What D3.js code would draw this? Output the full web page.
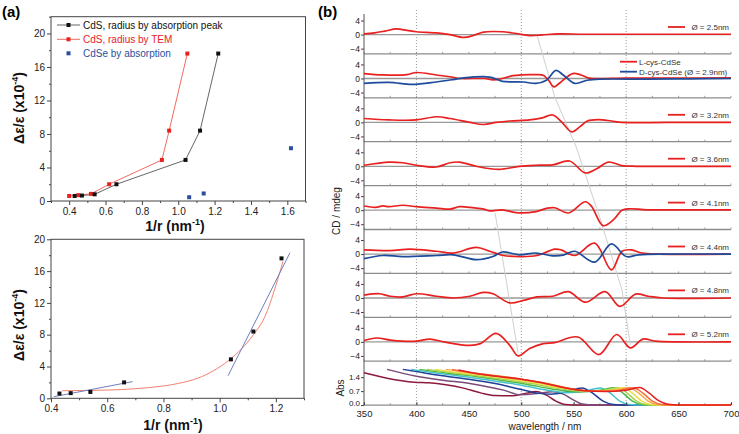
<!DOCTYPE html>
<html><head><meta charset="utf-8">
<script src="https://cdn.jsdelivr.net/npm/d3@7"></script>
<style>body{margin:0;background:#fff}svg{display:block}</style>
</head><body>
<svg id="chart" width="739" height="434"></svg>
<script>
// ---------- DATA : panel (a) ----------
const cdsAbsX = [0.43, 0.47, 0.54, 0.66, 1.04, 1.12, 1.22];
const cdsAbsY = [0.6, 0.65, 0.8, 2.0, 4.9, 8.4, 17.6];
const cdsTemX = [0.40, 0.45, 0.52, 0.62, 0.91, 0.95, 1.05];
const cdsTemY = [0.6, 0.7, 0.85, 2.0, 4.9, 8.4, 17.6];
const cdseX = [1.06, 1.14, 1.62];
const cdseY = [0.45, 0.9, 6.3];
const legendA = ["CdS, radius by absorption peak", "CdS, radius by TEM", "CdSe by absorption"];
const yTicksA = [0, 4, 8, 12, 16, 20];
const xTicksA = [0.4, 0.6, 0.8, 1.0, 1.2, 1.4, 1.6];
const xTicksC = [0.4, 0.6, 0.8, 1.0, 1.2];
const fitLow = [[0.41, 0.2], [0.69, 2.1]];
const fitHigh = [[1.03, 2.85], [1.25, 18.3]];
const fitExp = [[0.44,0.95],[0.55,1.0],[0.65,1.1],[0.75,1.35],[0.85,1.85],[0.92,2.5],[0.98,3.5],[1.03,4.7],[1.08,6.3],[1.12,8.0],[1.16,10.2],[1.20,14.2],[1.225,17.2]];

// ---------- DATA : panel (b) CD spectra [nm, mdeg] ----------
const cdLabels = ["Ø = 2.5nm", "L-cys-CdSe", "Ø = 3.2nm", "Ø = 3.6nm", "Ø = 4.1nm", "Ø = 4.4nm", "Ø = 4.8nm", "Ø = 5.2nm"];
const cdBlueLabel = "D-cys-CdSe (Ø = 2.9nm)";
const cdRed = [
 [[350,0.2],[360,0.5],[370,1.0],[381,1.6],[391,1.2],[400,0.8],[419,0.5],[432,0.0],[445,-0.8],[455,-0.2],[464,0.7],[482,0.8],[495,0.3],[508,-0.3],[520,-0.1],[535,0.2],[560,0.1],[600,0.1],[650,0.1],[700,0.1]],
 [[350,1.4],[368,1.0],[391,1.1],[400,1.7],[419,1.0],[432,0.5],[442,0.0],[465,0.0],[473,-0.4],[482,0.0],[492,0.8],[514,1.1],[521,0.9],[526,-0.5],[531,-2.4],[537,-1.2],[549,1.4],[557,1.0],[565,0.1],[600,0.1],[650,0.1],[700,0.2]],
 [[350,1.1],[374,0.7],[400,0.7],[419,1.6],[432,1.1],[451,0.0],[464,-0.6],[476,0.0],[489,0.4],[508,0.7],[520,1.3],[530,2.1],[538,0.3],[548,-2.7],[556,-1.2],[563,0.4],[573,0.8],[586,0.4],[596,0.0],[640,0.0],[700,0.0]],
 [[350,0.3],[374,1.2],[387,1.0],[400,0.3],[419,-0.2],[432,1.0],[441,1.2],[457,0.0],[479,-0.9],[498,0.0],[514,0.3],[530,0.4],[546,1.5],[561,-1.9],[572,-0.7],[583,1.2],[596,0.2],[610,0.0],[650,0.0],[700,0.0]],
 [[350,1.2],[361,0.8],[368,1.2],[374,1.0],[387,1.4],[400,1.0],[419,0.6],[432,0.3],[441,1.0],[451,0.8],[464,0.3],[470,-0.2],[482,0.1],[495,-0.7],[514,-0.4],[525,0.6],[532,0.7],[545,-0.8],[561,2.4],[567,1.1],[578,-4.4],[588,-2.7],[596,0.0],[603,0.4],[620,0.1],[660,0.1],[700,0.1]],
 [[350,1.2],[375,1.0],[394,1.4],[419,0.8],[435,0.3],[457,1.9],[470,0.8],[483,-0.4],[499,-0.7],[515,-0.4],[532,1.4],[538,1.2],[551,-0.4],[570,3.1],[586,-4.5],[596,0.8],[605,1.2],[615,0.3],[630,0.0],[700,0.0]],
 [[350,0.8],[365,1.2],[375,0.5],[387,0.3],[400,1.2],[419,0.5],[435,0.0],[451,0.5],[464,1.6],[473,1.2],[489,-1.4],[502,-0.7],[515,0.3],[530,0.5],[545,1.8],[561,-1.2],[580,1.8],[594,-2.4],[609,1.1],[621,0.5],[635,0.0],[700,0.0]],
 [[350,0.4],[362,1.1],[375,0.5],[387,0.2],[400,0.2],[413,0.8],[426,0.0],[451,-1.0],[461,-0.5],[476,2.4],[489,-1.0],[497,-4.0],[508,-1.9],[521,-0.5],[532,-0.2],[554,1.4],[574,-3.6],[591,2.1],[604,-1.7],[616,0.8],[628,0.2],[650,0.0],[700,0.0]]
];
const cdBluePanel2 = [[350,-1.4],[374,-1.1],[396,-1.7],[419,-1.0],[435,-0.3],[445,0.2],[470,0.4],[482,-0.8],[502,-1.0],[514,-1.4],[524,-0.5],[533,2.3],[540,1.0],[551,-1.4],[563,-0.5],[575,-0.2],[620,-0.2],[660,-0.1],[700,0.0]];
const cdBluePanel6 = [[350,-1.3],[368,-0.4],[387,-0.7],[419,-0.4],[435,-0.2],[457,-1.6],[473,-0.7],[482,0.6],[498,-0.2],[514,0.3],[530,-0.5],[540,-0.3],[551,0.8],[570,-2.3],[586,2.9],[600,-0.7],[612,-0.2],[640,0.0],[700,0.0]];
// guide lines: [nm, panel index, mdeg]
const guideA = [[515,0,-0.1],[532,1,-5.3],[552,3,5.8],[575,4,-2.2],[596,6,2.3],[604,7,-0.9]];
const guideB = [[475,4,-0.8],[486,6,4.3],[497,7,-3.2]];
const cdTicks = [-4, 0, 4];
const absTicks = [0.0, 0.7, 1.4];
const wlTicks = [350, 400, 450, 500, 550, 600, 650, 700];
const dottedWl = [400, 500, 600];

// absorption spectra [nm, Abs]
const absSpectra = [
 [[350,1.62],[372,1.35],[398,1.15],[412,1.12],[428,1.02],[445,0.85],[462,0.6],[475,0.48],[490,0.47],[505,0.6],[514,0.68],[524,0.5],[533,0.2],[542,0.03],[555,0],[700,0]],
 [[372,1.79],[400,1.45],[425,1.25],[451,1.08],[470,0.9],[483,0.75],[499,0.52],[515,0.58],[530,0.67],[540,0.55],[550,0.25],[558,0.05],[570,0],[700,0]],
 [[387,1.79],[400,1.68],[425,1.47],[450,1.3],[475,1.08],[500,0.78],[515,0.6],[528,0.55],[542,0.65],[558,0.86],[568,0.6],[578,0.2],[588,0.03],[600,0],[700,0]],
 [[395,1.79],[420,1.6],[450,1.4],[475,1.2],[500,1.0],[525,0.75],[545,0.62],[560,0.7],[575,0.86],[585,0.6],[594,0.2],[603,0.03],[615,0],[700,0]],
 [[403,1.79],[430,1.6],[455,1.45],[480,1.25],[505,1.05],[530,0.8],[555,0.66],[575,0.74],[588,0.87],[597,0.6],[606,0.2],[615,0.03],[625,0],[700,0]],
 [[410,1.79],[435,1.62],[460,1.46],[485,1.28],[510,1.08],[535,0.84],[560,0.69],[580,0.75],[592,0.87],[601,0.6],[610,0.2],[619,0.03],[630,0],[700,0]],
 [[418,1.79],[440,1.63],[465,1.48],[490,1.3],[515,1.1],[540,0.85],[565,0.7],[585,0.75],[597,0.87],[606,0.6],[615,0.2],[624,0.03],[635,0],[700,0]],
 [[428,1.79],[450,1.63],[475,1.48],[500,1.3],[525,1.08],[550,0.8],[570,0.7],[590,0.76],[603,0.87],[612,0.6],[621,0.2],[630,0.03],[640,0],[700,0]],
 [[434,1.78],[455,1.6],[478,1.45],[500,1.3],[522,1.1],[545,0.84],[565,0.71],[588,0.7],[607,0.87],[616,0.6],[625,0.2],[634,0.03],[645,0],[700,0]],
 [[440,1.76],[460,1.56],[480,1.42],[500,1.3],[520,1.12],[540,0.88],[560,0.72],[580,0.68],[600,0.75],[613,0.88],[622,0.6],[631,0.22],[640,0.04],[650,0],[700,0]]
];
const absColors = ["#8b1a3d","#7a4a78","#1f3f99","#45c3cb","#4fb84a","#a6d24f","#ebdf45","#f5a94c","#f36f3d","#e61f1f"];

// ---------- DRAW ----------
const FONT = '"Liberation Sans", Arial, Helvetica, sans-serif';
const svg = d3.select("#chart").attr("font-family", FONT);
const RED = "#e8201f", BLUE = "#1d4c9c";

function styleAxis(g, fs) {
  g.attr("font-family", FONT).attr("font-size", fs);
  g.select(".domain").remove();
  g.selectAll(".tick line").attr("stroke", "#444");
  g.selectAll(".tick text").attr("fill", "#222");
}
function minorVals(lo, hi, step) { return d3.range(lo, hi + 1e-9, step).map(v => +v.toFixed(3)); }

function framePanel(x, y, yTicks, yMinor, xTicks, xMinor, xfmt) {
  const [x0, x1] = x.range(), [y0, y1] = y.range();
  svg.append("rect").attr("x", x0).attr("y", y1).attr("width", x1 - x0).attr("height", y0 - y1)
    .attr("fill", "none").attr("stroke", "#444").attr("stroke-width", 1);
  styleAxis(svg.append("g").attr("transform", `translate(${x0},0)`)
    .call(d3.axisLeft(y).tickValues(yTicks).tickSize(4).tickPadding(2).tickFormat(d3.format("d"))), 10);
  styleAxis(svg.append("g").attr("transform", `translate(${x0},0)`)
    .call(d3.axisLeft(y).tickValues(yMinor).tickSize(2).tickFormat("")), 10);
  styleAxis(svg.append("g").attr("transform", `translate(0,${y0})`)
    .call(d3.axisBottom(x).tickValues(xTicks).tickSize(4).tickPadding(3).tickFormat(xfmt)), 10);
  styleAxis(svg.append("g").attr("transform", `translate(0,${y0})`)
    .call(d3.axisBottom(x).tickValues(xMinor).tickSize(2).tickFormat("")), 10);
}
function squares(x, y, pts, color, size) {
  svg.append("g").selectAll("rect").data(pts).join("rect")
    .attr("x", d => x(d[0]) - size / 2).attr("y", d => y(d[1]) - size / 2)
    .attr("width", size).attr("height", size).attr("fill", color);
}
function yLabel(cx, cy, main, sup, tail) {
  const t = svg.append("text").attr("transform", `translate(${cx},${cy}) rotate(-90)`)
    .attr("text-anchor", "middle").attr("font-weight", "bold").attr("font-size", 14).attr("fill", "#111");
  t.append("tspan").text(main);
  t.append("tspan").attr("font-size", 9).attr("dy", -6).text(sup);
  t.append("tspan").attr("dy", 6).text(tail);
}
function xLabel(cx, cy) {
  const t = svg.append("text").attr("x", cx).attr("y", cy).attr("text-anchor", "middle")
    .attr("font-weight", "bold").attr("font-size", 14).attr("fill", "#111");
  t.append("tspan").text("1/r (nm");
  t.append("tspan").attr("font-size", 9).attr("dy", -6).text("-1");
  t.append("tspan").attr("dy", 6).text(")");
}

// ----- (a) top -----
const xA = d3.scaleLinear().domain([0.3, 1.7]).range([51, 305.5]);
const yA = d3.scaleLinear().domain([0, 22]).range([201, 16.7]);
framePanel(xA, yA, yTicksA, minorVals(2, 22, 4), xTicksA, minorVals(0.3, 1.7, 0.2), d3.format(".1f"));
const lineA = d3.line().x(d => xA(d[0])).y(d => yA(d[1]));
const ptsAbs = d3.zip(cdsAbsX, cdsAbsY), ptsTem = d3.zip(cdsTemX, cdsTemY), ptsSe = d3.zip(cdseX, cdseY);
svg.append("path").attr("d", lineA(ptsTem)).attr("fill", "none").attr("stroke", "#ee5a50").attr("stroke-width", 0.9);
svg.append("path").attr("d", lineA(ptsAbs)).attr("fill", "none").attr("stroke", "#555").attr("stroke-width", 0.9);
squares(xA, yA, ptsTem, RED, 4);
squares(xA, yA, ptsAbs, "#111", 4);
squares(xA, yA, ptsSe, "#2b4f9e", 4);
// legend
const legCols = ["#111", RED, "#2b4f9e"], legLine = ["#555", "#ee5a50", null], legY = [25, 39.3, 53.3];
legendA.forEach((txt, i) => {
  if (legLine[i]) svg.append("line").attr("x1", 57).attr("x2", 80).attr("y1", legY[i]).attr("y2", legY[i]).attr("stroke", legLine[i]).attr("stroke-width", 0.9);
  svg.append("rect").attr("x", 66.5).attr("y", legY[i] - 2).attr("width", 4).attr("height", 4).attr("fill", legCols[i]);
  svg.append("text").attr("x", 83).attr("y", legY[i] + 3.5).attr("font-size", 10).attr("fill", legCols[i]).text(txt);
});
yLabel(24, 108, "Δε/ε (x10", "-4", ")");
xLabel(175, 231);
svg.append("text").attr("x", 2).attr("y", 17).attr("font-weight", "bold").attr("font-size", 15).text("(a)");

// ----- (a) bottom -----
const xC = d3.scaleLinear().domain([0.4, 1.3]).range([51, 304]);
const yC = d3.scaleLinear().domain([0, 20]).range([398.3, 239.3]);
framePanel(xC, yC, yTicksA, minorVals(2, 18, 4), xTicksC, minorVals(0.5, 1.3, 0.2), d3.format(".1f"));
const lineC = d3.line().x(d => xC(d[0])).y(d => yC(d[1]));
svg.append("path").attr("d", lineC.curve(d3.curveMonotoneX)(fitExp)).attr("fill", "none").attr("stroke", "#f08070").attr("stroke-width", 1);
lineC.curve(d3.curveLinear);
svg.append("path").attr("d", lineC(fitLow)).attr("fill", "none").attr("stroke", "#6f7fc0").attr("stroke-width", 1);
svg.append("path").attr("d", lineC(fitHigh)).attr("fill", "none").attr("stroke", "#6f7fc0").attr("stroke-width", 1);
squares(xC, yC, ptsAbs, "#111", 4);
yLabel(24, 325, "Δε/ε (x10", "-4", ")");
xLabel(173, 430);

// ----- (b) -----
const xB = d3.scaleLinear().domain([350, 700]).range([364, 731]);
const pTop = 10, pH = 43.9;
const yCD = i => d3.scaleLinear().domain([-5.5, 7]).range([pTop + (i + 1) * pH, pTop + i * pH]);
const yAbs = d3.scaleLinear().domain([0, 2.2]).range([pTop + 9 * pH, pTop + 8 * pH]);
const bottomY = pTop + 9 * pH;

// dotted verticals
svg.append("g").selectAll("line").data(dottedWl).join("line")
  .attr("x1", d => xB(d)).attr("x2", d => xB(d)).attr("y1", pTop).attr("y2", bottomY)
  .attr("stroke", "#9a9a9a").attr("stroke-width", 1).attr("stroke-dasharray", "1,2");

// panel separators, zero lines, small ticks
for (let i = 0; i < 9; i++) {
  const yb = pTop + (i + 1) * pH;
  svg.append("line").attr("x1", xB(350)).attr("x2", xB(700)).attr("y1", yb).attr("y2", yb)
    .attr("stroke", "#8c8c8c").attr("stroke-width", 1.3);
  svg.append("g").selectAll("line").data(d3.range(350, 701, 25)).join("line")
    .attr("x1", d => xB(d)).attr("x2", d => xB(d)).attr("y1", yb).attr("y2", yb - 2)
    .attr("stroke", "#8c8c8c").attr("stroke-width", 0.8);
  if (i < 8) {
    const y = yCD(i);
    svg.append("line").attr("x1", xB(350)).attr("x2", xB(700)).attr("y1", y(0)).attr("y2", y(0))
      .attr("stroke", "#999").attr("stroke-width", 1.3);
    styleAxis(svg.append("g").attr("transform", `translate(${xB(350)},0)`)
      .call(d3.axisLeft(y).tickValues(cdTicks).tickSize(3).tickPadding(1).tickFormat(d3.format("d"))), 8.5);
  }
}
const absAxis = svg.append("g").attr("transform", `translate(${xB(350)},0)`)
  .call(d3.axisLeft(yAbs).tickValues(absTicks).tickSize(3).tickPadding(1).tickFormat(d3.format(".1f")));
styleAxis(absAxis, 8);
absAxis.selectAll(".tick text").filter(d => d === 0).attr("dy", "0.1em");
svg.append("line").attr("x1", xB(350)).attr("x2", xB(350)).attr("y1", pTop + 4).attr("y2", bottomY)
  .attr("stroke", "#555").attr("stroke-width", 1);

// guide lines
const gLine = d3.line().x(d => xB(d[0])).y(d => yCD(d[1])(d[2]));
[guideA, guideB].forEach(g => svg.append("path").attr("d", gLine(g)).attr("fill", "none")
  .attr("stroke", "#cfcfcf").attr("stroke-width", 1));

// CD curves
cdRed.forEach((data, i) => {
  const y = yCD(i);
  const ln = d3.line().x(d => xB(d[0])).y(d => y(d[1])).curve(d3.curveCatmullRom.alpha(0.5));
  svg.append("path").attr("d", ln(data)).attr("fill", "none").attr("stroke", RED).attr("stroke-width", 1.7);
});
[[1, cdBluePanel2], [5, cdBluePanel6]].forEach(([i, data]) => {
  const y = yCD(i);
  const ln = d3.line().x(d => xB(d[0])).y(d => y(d[1])).curve(d3.curveCatmullRom.alpha(0.5));
  svg.append("path").attr("d", ln(data)).attr("fill", "none").attr("stroke", BLUE).attr("stroke-width", 1.7);
});

// CD legends
cdLabels.forEach((lab, i) => {
  if (i === 1) {
    const y1 = pTop + i * pH + 7.8, y2 = y1 + 10;
    svg.append("line").attr("x1", 620).attr("x2", 637).attr("y1", y1).attr("y2", y1).attr("stroke", RED).attr("stroke-width", 1.8);
    svg.append("text").attr("x", 639).attr("y", y1 + 3).attr("font-size", 8).attr("fill", "#333").text(lab);
    svg.append("line").attr("x1", 620).attr("x2", 637).attr("y1", y2).attr("y2", y2).attr("stroke", BLUE).attr("stroke-width", 1.8);
    svg.append("text").attr("x", 639).attr("y", y2 + 3).attr("font-size", 8).attr("fill", "#333").text(cdBlueLabel);
  } else {
    const yy = pTop + i * pH + 17;
    svg.append("line").attr("x1", 668).attr("x2", 685).attr("y1", yy).attr("y2", yy).attr("stroke", RED).attr("stroke-width", 1.8);
    svg.append("text").attr("x", 729).attr("y", yy + 3).attr("text-anchor", "end").attr("font-size", 8).attr("fill", "#333").text(lab);
  }
});

// absorption curves
const absLine = d3.line().x(d => xB(d[0])).y(d => yAbs(d[1])).curve(d3.curveMonotoneX);
absSpectra.forEach((data, i) => {
  svg.append("path").attr("d", absLine(data)).attr("fill", "none").attr("stroke", absColors[i]).attr("stroke-width", 1.5);
});

// x axis
styleAxis(svg.append("g").attr("transform", `translate(0,${bottomY})`)
  .call(d3.axisBottom(xB).tickValues(wlTicks).tickSizeInner(-3).tickSizeOuter(0).tickPadding(5.5)), 9.5);
svg.append("text").attr("x", 545).attr("y", 430).attr("text-anchor", "middle").attr("font-size", 10).attr("fill", "#222").text("wavelength / nm");
svg.append("text").attr("transform", `translate(340,211) rotate(-90)`).attr("text-anchor", "middle").attr("font-size", 10).attr("fill", "#222").text("CD / mdeg");
svg.append("text").attr("transform", `translate(344,388) rotate(-90)`).attr("text-anchor", "middle").attr("font-size", 10).attr("fill", "#222").text("Abs");
svg.append("text").attr("x", 318).attr("y", 17).attr("font-weight", "bold").attr("font-size", 15).text("(b)");
</script>
</body></html>
